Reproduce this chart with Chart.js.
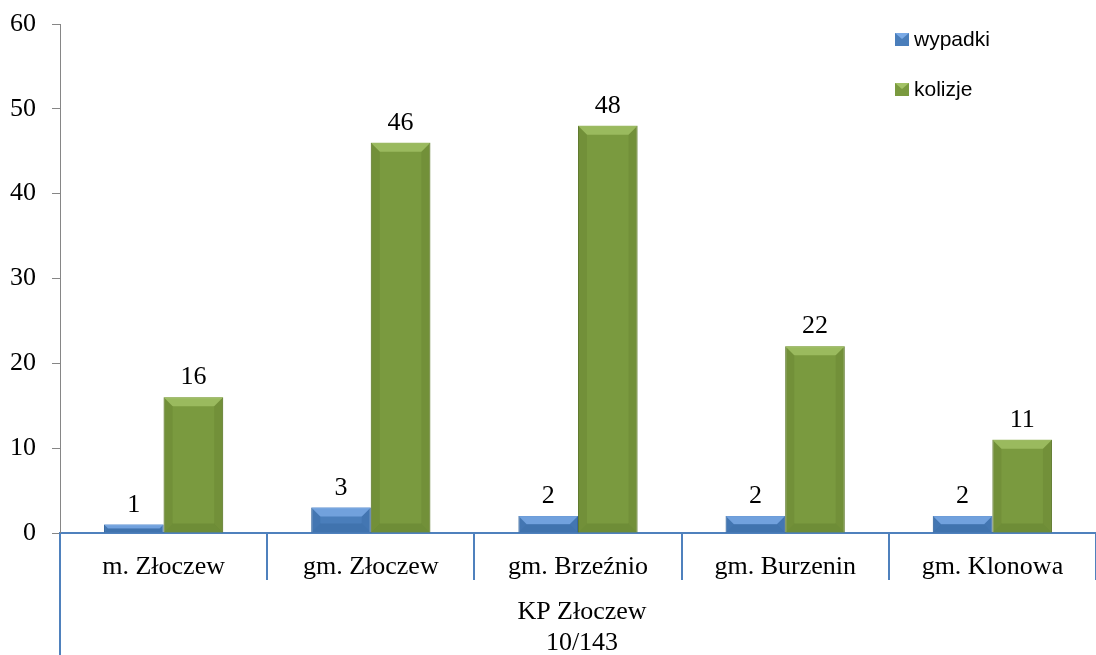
<!DOCTYPE html>
<html>
<head>
<meta charset="utf-8">
<script src="https://cdn.jsdelivr.net/npm/chart.js@4"></script>
<style>
  body { margin: 0; background: #fff; }
  canvas { display: block; }
</style>
</head>
<body>
<canvas id="accidentsChart" width="1096" height="655"></canvas>
<script>
var categories = ['m. Złoczew', 'gm. Złoczew', 'gm. Brzeźnio', 'gm. Burzenin', 'gm. Klonowa'];
var wypadki = [1, 3, 2, 2, 2];
var kolizje = [16, 46, 48, 22, 11];
var yTicks = [0, 10, 20, 30, 40, 50, 60];
var groupLabel = ['KP Złoczew', '10/143'];

var serif = "'Liberation Serif', 'Times New Roman', serif";

// bevel look on the bars, drawn over each bar element
var bevelPlugin = {
    id: 'bevel',
    afterDatasetsDraw: function(chart) {
        var ctx = chart.ctx;
        chart.data.datasets.forEach(function(ds, di) {
            chart.getDatasetMeta(di).data.forEach(function(bar) {
                var p = bar.getProps(['x', 'y', 'base', 'width'], true);
                var l = p.x - p.width / 2, r = p.x + p.width / 2, t = p.y, b = p.base;
                var bv = Math.min(9, (b - t) / 2);
                ctx.save();
                ctx.fillStyle = ds.bevelTop;
                ctx.globalAlpha = 0.8;
                ctx.beginPath();
                ctx.moveTo(l, t); ctx.lineTo(r, t); ctx.lineTo(r - bv, t + bv); ctx.lineTo(l + bv, t + bv);
                ctx.closePath(); ctx.fill();
                ctx.fillStyle = ds.bevelSide;
                ctx.globalAlpha = 0.35;
                ctx.beginPath();
                ctx.moveTo(l, b); ctx.lineTo(r, b); ctx.lineTo(r - bv, b - bv); ctx.lineTo(l + bv, b - bv);
                ctx.closePath(); ctx.fill();
                ctx.globalAlpha = 0.25;
                ctx.beginPath();
                ctx.moveTo(l, t); ctx.lineTo(l + bv, t + bv); ctx.lineTo(l + bv, b - bv); ctx.lineTo(l, b);
                ctx.closePath(); ctx.fill();
                ctx.beginPath();
                ctx.moveTo(r, t); ctx.lineTo(r - bv, t + bv); ctx.lineTo(r - bv, b - bv); ctx.lineTo(r, b);
                ctx.closePath(); ctx.fill();
                ctx.restore();
            });
        });
    }
};

// value labels above bars
var valueLabels = {
    id: 'valueLabels',
    afterDatasetsDraw: function(chart) {
        var ctx = chart.ctx;
        ctx.save();
        ctx.font = '26px ' + serif;
        ctx.fillStyle = '#000';
        ctx.textAlign = 'center';
        ctx.textBaseline = 'alphabetic';
        chart.data.datasets.forEach(function(ds, di) {
            chart.getDatasetMeta(di).data.forEach(function(bar, i) {
                ctx.fillText(ds.data[i], bar.x, bar.y - 13);
            });
        });
        ctx.restore();
    }
};

// category separators, group label and legend
var axisExtras = {
    id: 'axisExtras',
    afterDraw: function(chart) {
        var ctx = chart.ctx;
        var xs = chart.scales.x;
        var area = chart.chartArea;
        ctx.save();
        ctx.strokeStyle = '#4F81BD';
        ctx.lineWidth = 2;
        for (var i = 0; i <= categories.length; i++) {
            var px = Math.round(xs.getPixelForValue(i - 0.5));
            if (i === categories.length) px = area.right;
            ctx.beginPath();
            ctx.moveTo(px, area.bottom);
            ctx.lineTo(px, i === 0 ? chart.height : area.bottom + 47);
            ctx.stroke();
        }
        ctx.font = '26px ' + serif;
        ctx.fillStyle = '#000';
        ctx.textAlign = 'center';
        var cx = (area.left + area.right) / 2;
        groupLabel.forEach(function(txt, k) {
            ctx.fillText(txt, cx + 4, 619 + k * 31);
        });

        // legend
        ctx.font = "21px 'Liberation Sans', Arial, sans-serif";
        ctx.textAlign = 'left';
        ctx.textBaseline = 'middle';
        chart.data.datasets.forEach(function(ds, di) {
            var ly = 40 + di * 50;
            ctx.fillStyle = ds.backgroundColor;
            ctx.fillRect(895, ly - 7, 14, 13);
            ctx.fillStyle = ds.bevelTop;
            ctx.beginPath();
            ctx.moveTo(895, ly - 7); ctx.lineTo(909, ly - 7); ctx.lineTo(902, ly - 1);
            ctx.closePath(); ctx.fill();
            ctx.fillStyle = '#000';
            ctx.fillText(ds.label, 914, ly);
        });
        ctx.restore();
    }
};

var ctx = document.getElementById('accidentsChart').getContext('2d');
var accidentsChart = new Chart(ctx, {
    type: 'bar',
    data: {
        labels: categories,
        datasets: [{
            label: 'wypadki',
            data: wypadki,
            backgroundColor: '#4A7EBB',
            borderColor: '#3A6AA3',
            borderWidth: 1,
            bevelTop: '#7AAAE6',
            bevelSide: '#2F5F99'
        }, {
            label: 'kolizje',
            data: kolizje,
            backgroundColor: '#7A9A3F',
            borderColor: '#627D30',
            borderWidth: 1,
            bevelTop: '#A3C266',
            bevelSide: '#5A7529'
        }]
    },
    options: {
        responsive: false,
        animation: false,
        layout: { padding: { top: 24, right: 0, left: 0, bottom: 0 } },
        plugins: {
            legend: { display: false },
            tooltip: { enabled: false }
        },
        datasets: {
            bar: { categoryPercentage: 0.575, barPercentage: 1 }
        },
        scales: {
            x: {
                grid: { display: false },
                border: { display: true, color: '#4F81BD', width: 2 },
                ticks: { color: '#000', font: { family: serif, size: 26 }, padding: 11, maxRotation: 0 },
                afterFit: function(scale) { scale.height = 122; }
            },
            y: {
                min: 0,
                max: 60,
                afterBuildTicks: function(scale) {
                    scale.ticks = yTicks.map(function(v) { return { value: v }; });
                },
                grid: { drawOnChartArea: false, drawTicks: true, tickLength: 8, color: '#868686' },
                border: { display: true, color: '#868686', width: 1 },
                ticks: { color: '#000', font: { family: serif, size: 26 }, padding: 16 },
                afterFit: function(scale) {
                    scale.width = 60;
                    scale.paddingTop = 0;
                    scale.paddingBottom = 0;
                }
            }
        }
    },
    plugins: [bevelPlugin, valueLabels, axisExtras]
});
</script>
</body>
</html>
